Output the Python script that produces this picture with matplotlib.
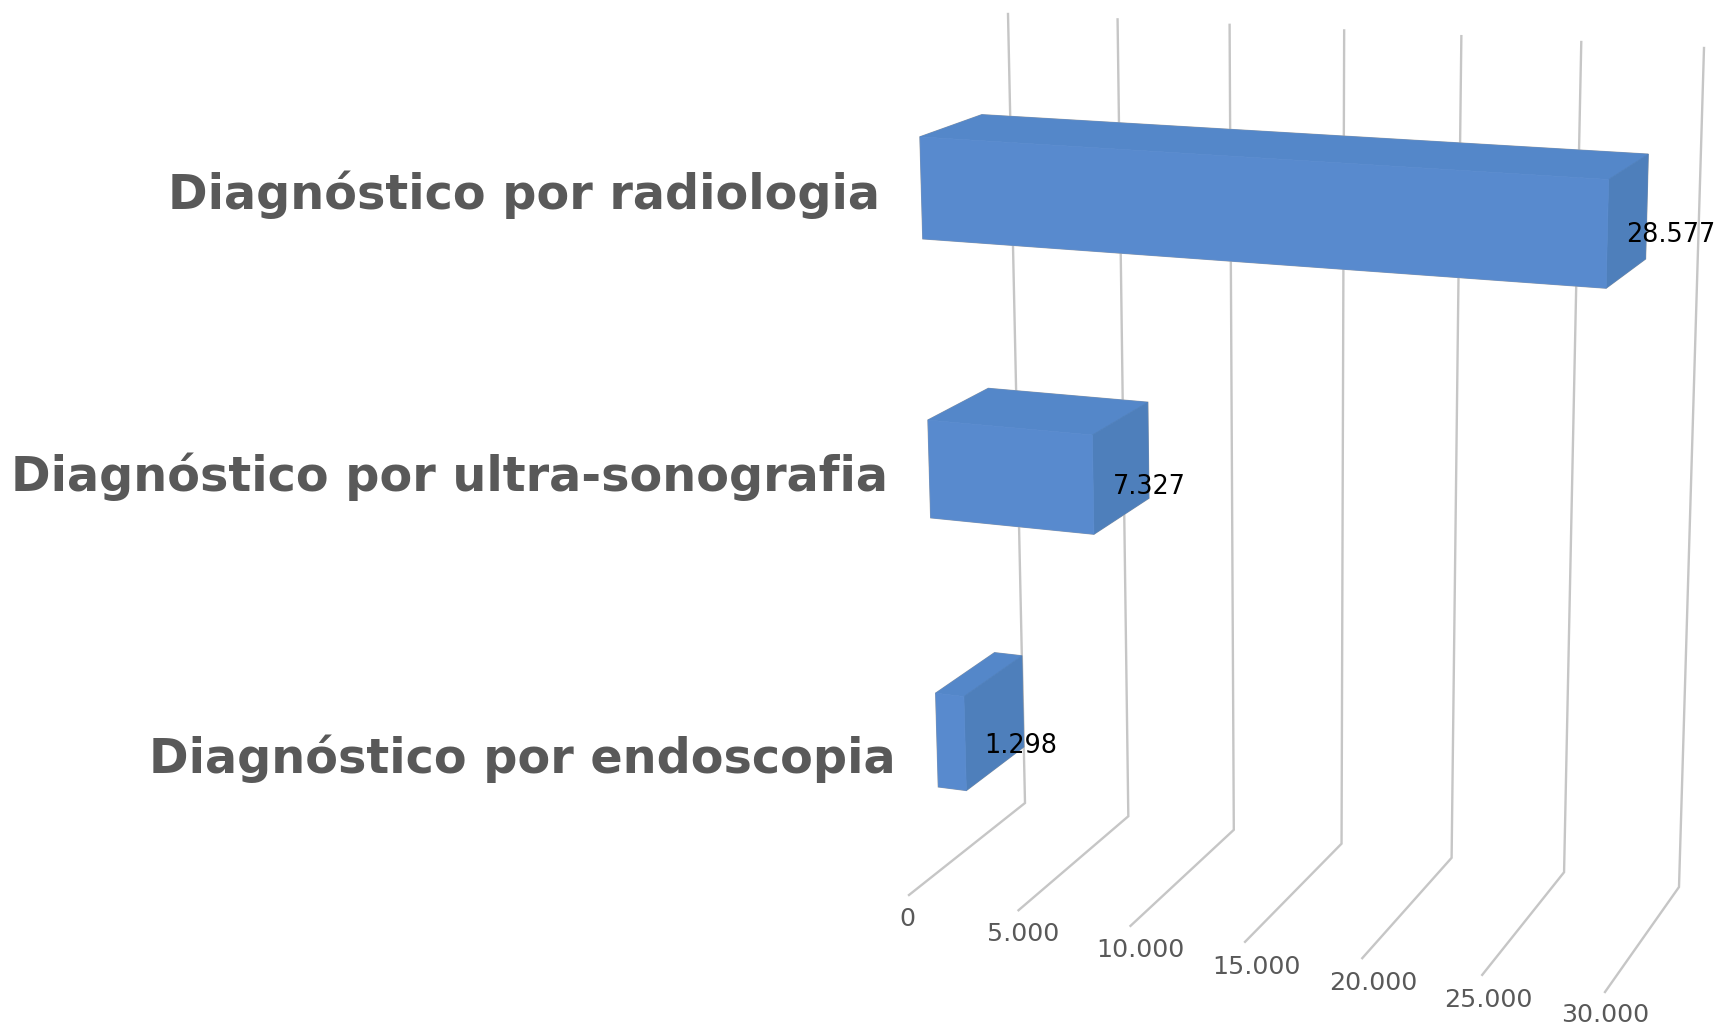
import numpy as np
import matplotlib
matplotlib.use('Agg')
import matplotlib.pyplot as plt
from matplotlib.patches import Polygon

# dados do grafico
categorias = ['Diagnóstico por endoscopia', 'Diagnóstico por ultra-sonografia', 'Diagnóstico por radiologia']
valores = [1298, 7327, 28577]
rotulos_valor = ['1.298', '7.327', '28.577']
ticks = [0, 5000, 10000, 15000, 20000, 25000, 30000]
rotulos_tick = ['0', '5.000', '10.000', '15.000', '20.000', '25.000', '30.000']
valor_max = 30000

# cantos da caixa 3D na imagem (camera): (valor, profundidade, altura) -> pixel
cantos_mundo = [(0, 1, 1), (0, 1, 0), (1, 1, 1), (1, 1, 0), (0, 0, 0), (1, 0, 0)]
cantos_px = [(1008, 14), (1025, 803), (1704, 48), (1679, 887), (909, 895), (1605, 992)]

# posicoes dos textos em pixel
pos_cat = [(896, 759), (888, 477), (880, 195)]
pos_val = [(1021, 746), (1149, 487), (1671, 235)]
pos_tick = [(907, 919), (1023, 934), (1140, 950), (1256, 967), (1373, 983), (1488, 1000), (1605, 1015)]

# profundidade e altura das barras
prof_frente, prof_fundo = 0.26, 0.76
altura_barra = 0.118
centro_barra = [0.165, 0.4995, 0.832]

cor_frente = '#588ACE'
cor_topo = '#5487C9'
cor_lado = '#4E7FBB'
cor_grade = '#C6C6C6'


# matriz de projecao pelos cantos (DLT)
linhas = []
for (X, Y, Z), (u, v) in zip(cantos_mundo, cantos_px):
    linhas.append([X, Y, Z, 1, 0, 0, 0, 0, -u * X, -u * Y, -u * Z, -u])
    linhas.append([0, 0, 0, 0, X, Y, Z, 1, -v * X, -v * Y, -v * Z, -v])
P = np.linalg.svd(np.array(linhas, dtype=float))[2][-1].reshape(3, 4)


def projeta(valor, prof, alt):
    p = P @ np.array([valor / valor_max, prof, alt, 1.0])
    return p[0] / p[2], p[1] / p[2]


fig = plt.figure(figsize=(17.17, 10.24), dpi=100)
ax = fig.add_axes([0, 0, 1, 1])
ax.set_xlim(0, 1717)
ax.set_ylim(1024, 0)
ax.axis('off')

# grade
for t, lab, pos in zip(ticks, rotulos_tick, pos_tick):
    pts = [projeta(t, 1, 1), projeta(t, 1, 0), projeta(t, 0, 0)]
    ax.plot(*zip(*pts), color=cor_grade, lw=1.7, zorder=1, solid_joinstyle='miter')
    ax.text(pos[0], pos[1], lab, fontsize=18.2, color='#595959', ha='center', va='center')

# barras
for i, v in enumerate(valores):
    z0 = centro_barra[i] - altura_barra / 2
    z1 = centro_barra[i] + altura_barra / 2
    a = projeta(0, prof_frente, z1)
    b = projeta(v, prof_frente, z1)
    c = projeta(v, prof_frente, z0)
    d = projeta(0, prof_frente, z0)
    e = projeta(0, prof_fundo, z1)
    f = projeta(v, prof_fundo, z1)
    g = projeta(v, prof_fundo, z0)
    ax.add_patch(Polygon([a, e, f, g, c, d], fc='none', ec='#A8A8A8', lw=1.0, zorder=2))
    ax.add_patch(Polygon([a, e, f, b], fc=cor_topo, ec=cor_topo, lw=0.5, zorder=3))
    ax.add_patch(Polygon([b, f, g, c], fc=cor_lado, ec=cor_lado, lw=0.5, zorder=3))
    ax.add_patch(Polygon([a, b, c, d], fc=cor_frente, ec=cor_frente, lw=0.5, zorder=3))

for i in range(3):
    ax.text(pos_cat[i][0], pos_cat[i][1], categorias[i], fontsize=34.4, fontweight='bold',
            color='#595959', ha='right', va='center')
    ax.text(pos_val[i][0], pos_val[i][1], rotulos_valor[i], fontsize=18.4, color='black',
            ha='center', va='center', zorder=4)

fig.savefig('out.png', dpi=100, facecolor='white')
